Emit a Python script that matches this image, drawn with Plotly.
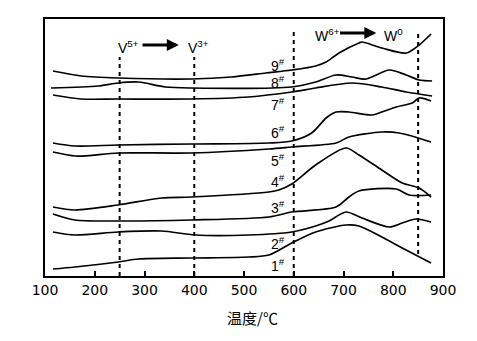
import plotly.graph_objects as go

# Temperature (°C) and relative signal (arbitrary units, offset per sample)
t1 = [116, 160, 247, 288, 394, 509, 550, 596, 644, 705, 731, 777, 818, 876]
s1 = [7, 9, 14, 17, 18, 19, 21, 33, 44, 51, 50, 39, 28, 13]

t2 = [116, 160, 247, 334, 402, 509, 596, 644, 671, 705, 737, 792, 818, 846, 876]
s2 = [44, 41, 44, 45, 41, 41, 44, 50, 55, 64, 58, 49, 53, 57, 54]

t3 = [116, 160, 247, 394, 550, 596, 685, 711, 731, 806, 832, 876]
s3 = [62, 56, 55, 56, 59, 64, 69, 79, 85, 87, 81, 81]

t4 = [116, 160, 247, 334, 394, 550, 570, 596, 644, 705, 731, 777, 818, 852, 876]
s4 = [69, 66, 71, 78, 79, 84, 86, 92, 111, 128, 121, 106, 93, 88, 79]

t5 = [116, 162, 247, 394, 550, 596, 685, 711, 777, 812, 876]
s5 = [124, 120, 123, 123, 127, 129, 133, 139, 144, 143, 134]

t6 = [116, 160, 247, 394, 550, 596, 636, 665, 685, 711, 757, 777, 806, 838, 852, 876]
s6 = [133, 130, 131, 132, 133, 135, 143, 158, 164, 164, 161, 164, 169, 173, 178, 175]

t7 = [116, 173, 247, 394, 509, 596, 644, 717, 777, 826, 878]
s7 = [181, 177, 177, 177, 179, 184, 188, 193, 189, 184, 180]

t8 = [112, 207, 247, 288, 342, 394, 596, 644, 685, 717, 745, 792, 826, 852, 878]
s8 = [188, 190, 193, 194, 189, 188, 189, 194, 201, 199, 197, 206, 201, 196, 195]

t9 = [116, 173, 247, 394, 475, 544, 596, 644, 665, 691, 731, 737, 777, 826, 852, 876]
s9 = [205, 200, 198, 197, 199, 203, 206, 210, 214, 223, 233, 234, 228, 223, 231, 242]

series_t = [t1, t2, t3, t4, t5, t6, t7, t8, t9]
series_s = [s1, s2, s3, s4, s5, s6, s7, s8, s9]

labels = ["1", "2", "3", "4", "5", "6", "7", "8", "9"]
label_y = [11, 33, 69, 95, 116, 144, 172, 194, 211]

ref_temps = [250, 400, 600, 850]
ref_top = [219, 219, 245, 245]
ref_bottom = [0, 0, 0, 22]

x_ticks = [100, 200, 300, 400, 500, 600, 700, 800, 900]

fig = go.Figure()
for tt, ss in zip(series_t, series_s):
    fig.add_trace(go.Scatter(x=tt, y=ss, mode="lines",
                             line=dict(color="black", width=1.7, shape="spline", smoothing=0.8),
                             showlegend=False, hoverinfo="skip"))

for xr, y0, y1 in zip(ref_temps, ref_bottom, ref_top):
    fig.add_shape(type="line", xref="x", yref="y", x0=xr, x1=xr, y0=y0, y1=y1,
                  line=dict(color="black", width=2, dash="4px,4px"))

font = dict(family="Liberation Sans, Arial, sans-serif", size=14, color="black")

for lab, ly in zip(labels, label_y):
    fig.add_annotation(x=586, y=ly, xref="x", yref="y", text=lab + "<sup>#</sup>",
                       showarrow=False, xanchor="right", yanchor="middle", font=font)

# valence-change annotations
fig.add_annotation(x=242, y=229, text="V<sup>5+</sup>", showarrow=False,
                   xanchor="left", yanchor="middle", font=font)
fig.add_annotation(x=383, y=229, text="V<sup>3+</sup>", showarrow=False,
                   xanchor="left", yanchor="middle", font=font)
fig.add_annotation(x=369, y=231, ax=293, ay=231, xref="x", yref="y", axref="x", ayref="y",
                   text="", showarrow=True, arrowhead=2, arrowsize=0.8, arrowwidth=3,
                   arrowcolor="black")
fig.add_annotation(x=638, y=241, text="W<sup>6+</sup>", showarrow=False,
                   xanchor="left", yanchor="middle", font=font)
fig.add_annotation(x=777, y=241, text="W<sup>0</sup>", showarrow=False,
                   xanchor="left", yanchor="middle", font=font)
fig.add_annotation(x=766, y=243, ax=690, ay=243, xref="x", yref="y", axref="x", ayref="y",
                   text="", showarrow=True, arrowhead=2, arrowsize=0.8, arrowwidth=3,
                   arrowcolor="black")

fig.add_annotation(x=517, y=-0.16, xref="x", yref="paper", text="温度/℃",
                   showarrow=False, xanchor="center", yanchor="middle",
                   font=dict(family="Noto Sans CJK SC, sans-serif", size=15, color="black"))

fig.update_layout(
    width=477, height=341,
    margin=dict(l=45, r=34, t=19, b=65),
    paper_bgcolor="white", plot_bgcolor="white",
    xaxis=dict(range=[100, 900], tickvals=x_ticks, ticktext=[str(v) for v in x_ticks],
               ticks="inside", ticklen=5, tickwidth=1.5, tickcolor="black",
               showline=True, linecolor="black", linewidth=2, mirror=True,
               showgrid=False, zeroline=False,
               tickfont=dict(family="DejaVu Sans, sans-serif", size=14, color="black")),
    yaxis=dict(range=[0, 257], showticklabels=False, ticks="",
               showline=True, linecolor="black", linewidth=2, mirror=True,
               showgrid=False, zeroline=False),
)

fig.write_html("out.html")
